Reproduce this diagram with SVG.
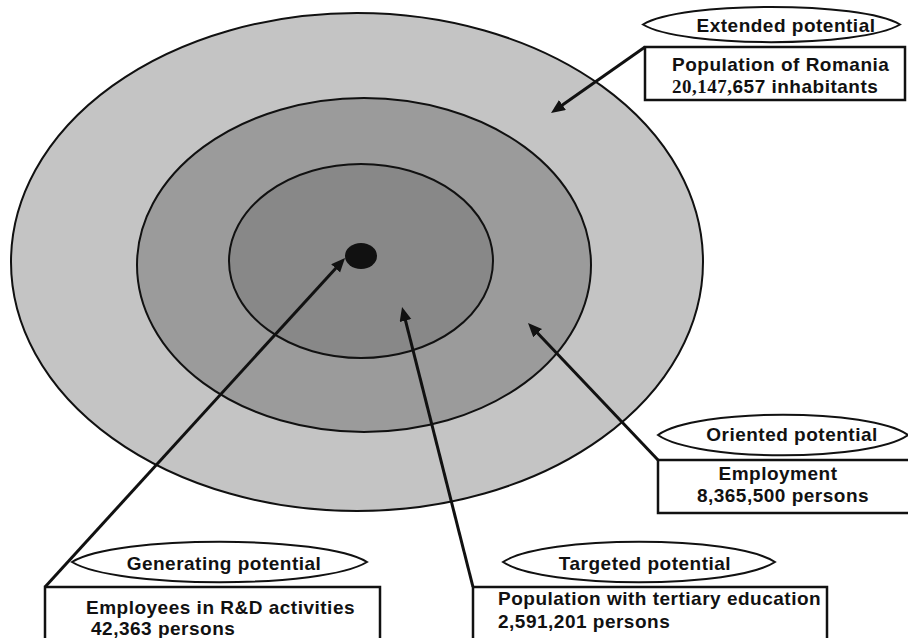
<svg xmlns="http://www.w3.org/2000/svg" width="908" height="638" viewBox="0 0 908 638">
<style>
.ring{stroke:#111;stroke-width:2}
.lab{fill:#fff;stroke:#111;stroke-width:2}
.box{fill:#fff;stroke:#111;stroke-width:2.5}
.t{font-family:"Liberation Sans",Arial,sans-serif;font-weight:bold;font-size:19px;letter-spacing:0.5px;fill:#111}
.c{text-anchor:middle}
.conn{stroke:#111;stroke-width:3;fill:none}
</style>
<defs>
<marker id="ah" markerUnits="userSpaceOnUse" markerWidth="16" markerHeight="14" refX="4" refY="6" orient="auto">
<path d="M0,0 L14,6 L0,12 z" fill="#111"/>
</marker>
</defs>
<rect width="908" height="638" fill="#fff"/>
<g id="rings">
<ellipse id="outer" class="ring" cx="357" cy="262" rx="346" ry="249" fill="#c4c4c4"/>
<ellipse id="middle" class="ring" cx="364" cy="265" rx="227" ry="167" fill="#9b9b9b"/>
<ellipse id="inner" class="ring" cx="361" cy="261" rx="132" ry="97" fill="#888888"/>
<ellipse id="dot" cx="361" cy="256" rx="16" ry="13" fill="#111"/>
</g>
<g id="connectors">
<path class="conn" d="M645,47 L559.2,107.3" marker-end="url(#ah)"/>
<path class="conn" d="M658,460 L534.9,330.3" marker-end="url(#ah)"/>
<path class="conn" d="M473,587 L404.5,316.7" marker-end="url(#ah)"/>
<path class="conn" d="M45,587 L338.3,265.4" marker-end="url(#ah)"/>
</g>
<g id="extended">
<path class="lab" d="M643,24.5 C681,1 861,1 900,24.5 C861,48 681,48 643,24.5 Z"/>
<text class="t c" x="786" y="32">Extended potential</text>
<rect class="box" x="645" y="47" width="260" height="53"/>
<text class="t" x="672" y="71">Population of Romania</text>
<text class="t" x="672" y="93"><tspan font-family="'Liberation Serif','Times New Roman',serif">20,147,</tspan>657 inhabitants</text>
</g>
<g id="oriented">
<path class="lab" d="M658,435 C696,408 870,408 908,435 C870,462 696,462 658,435 Z"/>
<text class="t c" x="792" y="441">Oriented potential</text>
<rect class="box" x="658" y="460" width="260" height="53"/>
<text class="t c" x="778" y="480">Employment</text>
<text class="t c" x="783" y="502">8,365,500 persons</text>
</g>
<g id="generating">
<path class="lab" d="M72,562 C116,535 323,535 367,562 C323,589 116,589 72,562 Z"/>
<text class="t c" x="224" y="570">Generating potential</text>
<rect class="box" x="45" y="587" width="335" height="60"/>
<text class="t" x="86" y="614">Employees in R&amp;D activities</text>
<text class="t" x="91" y="635">42,363 persons</text>
</g>
<g id="targeted">
<path class="lab" d="M503,562 C544,535 734,535 775,562 C734,589 544,589 503,562 Z"/>
<text class="t c" x="645" y="570">Targeted potential</text>
<rect class="box" x="473" y="587" width="354" height="60"/>
<text class="t" x="498" y="605">Population with tertiary education</text>
<text class="t" x="498" y="628">2,591,201 persons</text>
</g>
</svg>
